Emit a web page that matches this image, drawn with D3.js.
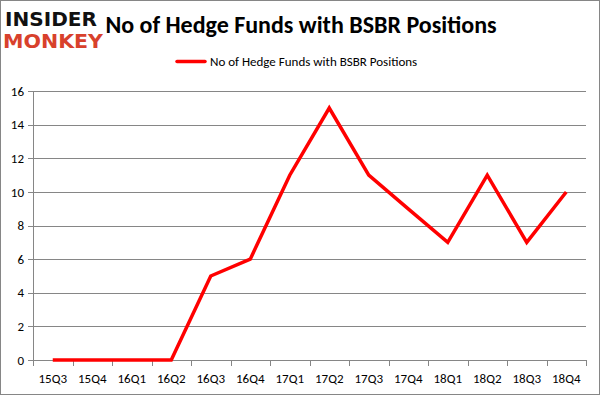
<!DOCTYPE html>
<html>
<head>
<meta charset="utf-8">
<script src="https://cdnjs.cloudflare.com/ajax/libs/d3/7.8.5/d3.min.js"></script>
<style>
  body { margin: 0; background: #fff; }
  svg { display: block; font-family: Calibri, Carlito, Lato, "Open Sans", sans-serif; }
</style>
</head>
<body>
<div id="chart"></div>
<script>
var quarters = ["15Q3", "15Q4", "16Q1", "16Q2", "16Q3", "16Q4", "17Q1", "17Q2", "17Q3", "17Q4", "18Q1", "18Q2", "18Q3", "18Q4"];
var funds = [0, 0, 0, 0, 5, 6, 11, 15, 11, 9, 7, 11, 7, 10];
var yTicks = [0, 2, 4, 6, 8, 10, 12, 14, 16];
var seriesName = "No of Hedge Funds with BSBR Positions";

(function (selector) {
    var W = 601, H = 396;
    var svg = d3.select(selector).append("svg")
        .attr("width", W)
        .attr("height", H);

    // outer frame
    svg.append("rect")
        .attr("x", 0.5).attr("y", 0.5)
        .attr("width", W - 2).attr("height", H - 2)
        .attr("fill", "#fff")
        .attr("stroke", "#868686");

    var x = d3.scaleBand()
        .domain(quarters)
        .range([33, 586]);

    var y = d3.scaleLinear()
        .domain([0, 16])
        .range([360, 91.2]);

    var g = svg.append("g");

    // gridlines
    g.selectAll("line.grid")
        .data(yTicks)
        .enter().append("line")
        .attr("class", "grid")
        .attr("x1", 28).attr("x2", 586)
        .attr("y1", function (d) { return Math.round(y(d)) + 0.5; })
        .attr("y2", function (d) { return Math.round(y(d)) + 0.5; })
        .attr("stroke", "#868686")
        .attr("stroke-width", 1);

    // y axis line
    g.append("line")
        .attr("x1", 33.5).attr("x2", 33.5)
        .attr("y1", Math.round(y(16))).attr("y2", Math.round(y(0)) + 1)
        .attr("stroke", "#868686");

    g.selectAll("text.ylab")
        .data(yTicks)
        .enter().append("text")
        .attr("class", "ylab")
        .attr("x", 24)
        .attr("y", function (d) { return y(d); })
        .attr("dy", "0.35em")
        .attr("text-anchor", "end")
        .attr("font-size", 13)
        .attr("fill", "#000")
        .text(function (d) { return d; });

    // x ticks at band boundaries
    var bounds = quarters.map(function (q) { return x(q); }).concat([x.range()[1]]);
    g.selectAll("line.xtick")
        .data(bounds)
        .enter().append("line")
        .attr("class", "xtick")
        .attr("x1", function (d) { return Math.round(d) + 0.5; })
        .attr("x2", function (d) { return Math.round(d) + 0.5; })
        .attr("y1", Math.round(y(0))).attr("y2", Math.round(y(0)) + 6)
        .attr("stroke", "#868686");

    g.selectAll("text.xlab")
        .data(quarters)
        .enter().append("text")
        .attr("class", "xlab")
        .attr("x", function (d) { return x(d) + x.bandwidth() / 2; })
        .attr("y", 383)
        .attr("text-anchor", "middle")
        .attr("font-size", 13)
        .attr("fill", "#000")
        .text(function (d) { return d; });

    // series line
    var line = d3.line()
        .x(function (d, i) { return x(quarters[i]) + x.bandwidth() / 2; })
        .y(function (d) { return y(d); });

    g.append("path")
        .datum(funds)
        .attr("d", line)
        .attr("fill", "none")
        .attr("stroke", "#ff0000")
        .attr("stroke-width", 3.5)
        .attr("stroke-linejoin", "miter");

    // legend
    var legend = svg.append("g");
    legend.append("line")
        .attr("x1", 177).attr("x2", 205)
        .attr("y1", 61.5).attr("y2", 61.5)
        .attr("stroke", "#ff0000")
        .attr("stroke-width", 3.5)
        .attr("stroke-linecap", "round");
    legend.append("text")
        .attr("x", 210)
        .attr("y", 66)
        .attr("font-size", 13)
        .attr("fill", "#000")
        .text(seriesName);

    // title
    svg.append("text")
        .attr("x", 301)
        .attr("y", 33)
        .attr("text-anchor", "middle")
        .attr("font-size", 24)
        .attr("font-weight", "bold")
        .attr("fill", "#000")
        .text(seriesName);

    // logo
    var logo = svg.append("g").attr("font-family", "'DejaVu Sans', sans-serif").attr("font-weight", "bold");
    logo.append("rect").attr("x", 1).attr("y", 1).attr("width", 103).attr("height", 48).attr("fill", "#fff");
    logo.append("text")
        .attr("x", 5).attr("y", 26)
        .attr("font-size", 19)
        .attr("textLength", 92)
        .attr("lengthAdjust", "spacingAndGlyphs")
        .attr("fill", "#111")
        .text("INSIDER");
    logo.append("text")
        .attr("x", 3).attr("y", 48)
        .attr("font-size", 19)
        .attr("textLength", 100)
        .attr("lengthAdjust", "spacingAndGlyphs")
        .attr("fill", "#d8412c")
        .text("MONKEY");
})("#chart");
</script>
</body>
</html>
